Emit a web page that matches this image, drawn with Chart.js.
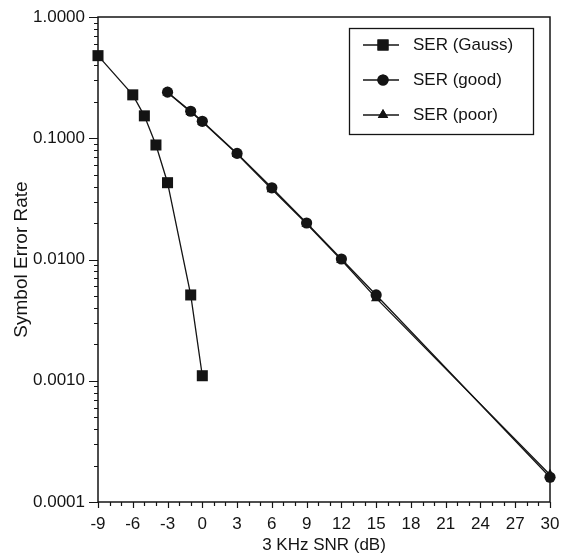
<!DOCTYPE html>
<html><head><meta charset="utf-8">
<script src="https://cdn.jsdelivr.net/npm/chart.js@4/dist/chart.umd.min.js"></script>
<style>html,body{margin:0;padding:0;background:#fff}canvas{display:block}</style>
</head><body>
<canvas id="c" width="563" height="556"></canvas>
<script>
const snrGauss = [-9, -6, -5, -4, -3, -1, 0];
const serGauss = [0.48, 0.228, 0.153, 0.088, 0.043, 0.0051, 0.0011];
const snrGood = [-3, -1, 0, 3, 6, 9, 12, 15, 30];
const serGood = [0.24, 0.167, 0.138, 0.075, 0.039, 0.020, 0.0101, 0.0051, 0.00016];
const snrPoor = [-3, -1, 0, 3, 6, 9, 12, 15, 30];
const serPoor = [0.238, 0.165, 0.137, 0.074, 0.038, 0.0197, 0.0099, 0.0048, 0.000168];
const seriesNames = ['SER (Gauss)', 'SER (good)', 'SER (poor)'];
const xTickLabels = [-9, -6, -3, 0, 3, 6, 9, 12, 15, 18, 21, 24, 27, 30];
const yTickLabels = [1, 0.1, 0.01, 0.001, 0.0001];
const xTitle = '3 KHz SNR (dB)';
const yTitle = 'Symbol Error Rate';

const INK = '#141414';
const FONT = 'Liberation Sans, Arial, Helvetica, sans-serif';
const pts = (xs, ys) => xs.map((x, i) => ({x: x, y: ys[i]}));

const ds = (label, data, style, r) => ({
  label, data, pointStyle: style, pointRadius: r, pointHoverRadius: r,
  borderColor: INK, backgroundColor: INK, pointBackgroundColor: INK, pointBorderColor: INK,
  borderWidth: 1.3, pointBorderWidth: 0, tension: 0, clip: false
});

const frameAndTicks = {
  id: 'frameAndTicks',
  beforeDatasetsDraw(chart) {
    const {ctx, chartArea: a, scales: {x, y}} = chart;
    ctx.save();
    ctx.strokeStyle = INK;
    ctx.lineWidth = 1.5;
    ctx.strokeRect(a.left, a.top, a.right - a.left, a.bottom - a.top);
    ctx.lineWidth = 1.2;
    ctx.beginPath();
    for (let v = x.min; v <= x.max; v++) {
      const px = Math.round(x.getPixelForValue(v)) + 0.5;
      const len = (v % 3 === 0) ? 6 : 4;
      ctx.moveTo(px, a.bottom); ctx.lineTo(px, a.bottom + len);
    }
    for (let e = -4; e <= 0; e++) {
      for (let m = 1; m <= 9; m++) {
        const v = m * Math.pow(10, e);
        if (v > 1.0000001 || v < 0.0001 * 0.999) continue;
        const py = Math.round(y.getPixelForValue(v)) + 0.5;
        const len = m === 1 ? 9 : 4;
        ctx.moveTo(a.left, py); ctx.lineTo(a.left - len, py);
      }
    }
    ctx.stroke();
    ctx.restore();
  },
  afterDraw(chart) {
    const {ctx} = chart;
    ctx.save();
    const bx = 349, by = 28, bw = 184, bh = 106;
    ctx.fillStyle = '#fff';
    ctx.fillRect(bx, by, bw, bh);
    ctx.strokeStyle = INK; ctx.lineWidth = 1.3;
    ctx.strokeRect(bx + 0.5, by + 0.5, bw, bh);
    chart.data.datasets.forEach((d, i) => {
      const yy = 45 + i * 35;
      ctx.strokeStyle = INK; ctx.lineWidth = 1.3;
      ctx.beginPath(); ctx.moveTo(363, yy); ctx.lineTo(399, yy); ctx.stroke();
      ctx.fillStyle = INK;
      Chart.helpers.drawPoint(ctx, {pointStyle: d.pointStyle, radius: d.pointRadius, borderWidth: 0, rotation: 0}, 383, yy);
      ctx.fill();
      ctx.fillStyle = INK;
      ctx.font = '17px ' + FONT;
      ctx.textBaseline = 'middle';
      ctx.textAlign = 'left';
      ctx.fillText(d.label, 413, yy);
    });
    ctx.restore();
  }
};

new Chart(document.getElementById('c'), {
  type: 'line',
  data: {
    datasets: [
      ds(seriesNames[0], pts(snrGauss, serGauss), 'rect', 7.8),
      ds(seriesNames[1], pts(snrGood, serGood), 'circle', 5.6),
      ds(seriesNames[2], pts(snrPoor, serPoor), 'triangle', 6)
    ]
  },
  options: {
    responsive: false,
    animation: false,
    devicePixelRatio: 1,
    layout: {padding: {left: 0, right: 13, top: 17, bottom: 0}},
    plugins: {legend: {display: false}, tooltip: {enabled: false}},
    scales: {
      x: {
        type: 'linear', min: -9, max: 30,
        afterBuildTicks: s => { s.ticks = xTickLabels.map(v => ({value: v})); },
        afterFit: s => { s.height = 54; s.paddingLeft = 0; s.paddingRight = 0; },
        grid: {display: false, drawTicks: false},
        border: {display: false},
        ticks: {color: INK, font: {family: FONT, size: 17}, padding: 12, maxRotation: 0, autoSkip: false,
          callback: v => String(v)},
        title: {display: true, text: xTitle, color: INK, font: {family: FONT, size: 17}, padding: {top: 6, bottom: 0}}
      },
      y: {
        type: 'logarithmic', min: 0.0001, max: 1,
        afterBuildTicks: s => { s.ticks = yTickLabels.map(v => ({value: v})); },
        afterFit: s => { s.width = 98; s.paddingTop = 0; s.paddingBottom = 0; },
        grid: {display: false, drawTicks: false},
        border: {display: false},
        ticks: {color: INK, font: {family: FONT, size: 17}, padding: 13, autoSkip: false,
          callback: v => Number(v).toFixed(4)},
        title: {display: true, text: yTitle, color: INK, font: {family: FONT, size: 19}, padding: {top: 10, bottom: 0}}
      }
    }
  },
  plugins: [frameAndTicks]
});
</script>
</body></html>
